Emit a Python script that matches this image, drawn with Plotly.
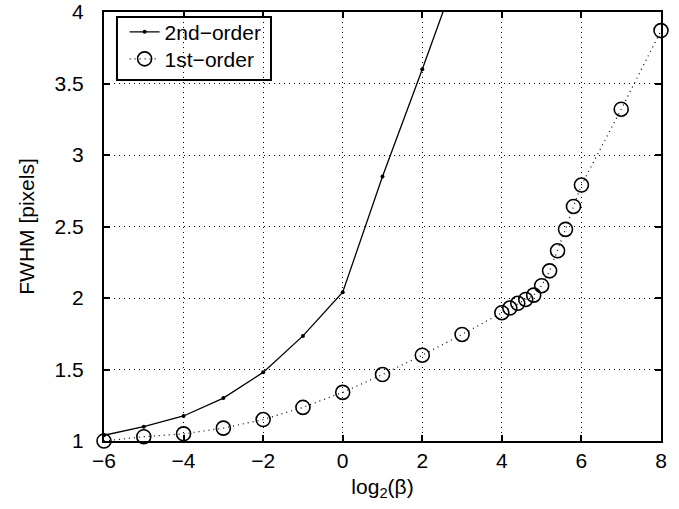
import plotly.graph_objects as go

x2 = [-6, -5, -4, -3, -2, -1, 0, 1, 2, 3]
y2 = [1.04, 1.10, 1.175, 1.30, 1.48, 1.735, 2.04, 2.85, 3.60, 4.37]

x1 = [-6, -5, -4, -3, -2, -1, 0, 1, 2, 3, 4, 4.2, 4.4, 4.6, 4.8, 5.0, 5.2, 5.4, 5.6, 5.8, 6.0, 7, 8]
y1 = [1.0, 1.03, 1.05, 1.09, 1.15, 1.235, 1.34, 1.465, 1.60, 1.745, 1.897, 1.93, 1.963, 1.99, 2.02,
      2.086, 2.19, 2.33, 2.48, 2.64, 2.79, 3.32, 3.87]

xticks = [-6, -4, -2, 0, 2, 4, 6, 8]
yticks = [1, 1.5, 2, 2.5, 3, 3.5, 4]

FONT = "Liberation Sans, Arial, sans-serif"

fig = go.Figure()
fig.add_trace(go.Scatter(
    x=x2, y=y2, name="2nd\u2212order", mode="lines+markers",
    line=dict(color="black", width=1.3),
    marker=dict(symbol="circle", size=4, color="black"),
    cliponaxis=True, legend="legend",
))
fig.add_trace(go.Scatter(
    x=x1, y=y1, name="1st\u2212order", mode="lines+markers",
    line=dict(color="black", width=1.2, dash="1px,4px"),
    marker=dict(symbol="circle-open", size=14, color="black", line=dict(width=1.6)),
    cliponaxis=False, legend="legend2",
))

axis_common = dict(
    showline=True, linecolor="black", linewidth=2, mirror="ticks",
    ticks="inside", ticklen=6, tickwidth=2, tickcolor="black",
    showgrid=True, gridcolor="black", gridwidth=1, griddash="1px,4px",
    zeroline=False, automargin=False, ticklabeloverflow="allow",
    tickfont=dict(family=FONT, size=21, color="black"),
)

fig.update_xaxes(range=[-6, 8], tickvals=xticks, ticktext=[str(v).replace("-", "\u2212") for v in xticks],
                 ticklabelstandoff=0,
                 title=dict(text="log<sub>2</sub>(\u03b2)", font=dict(family=FONT, size=21, color="black"), standoff=8),
                 **axis_common)
fig.update_yaxes(range=[1, 4], tickvals=yticks, ticktext=[("%g" % v) for v in yticks],
                 ticklabelstandoff=14,
                 title=dict(text="FWHM [pixels]", font=dict(family=FONT, size=21, color="black"), standoff=14),
                 **axis_common)

# legend frame (style only)
fig.add_shape(type="rect", xref="paper", yref="paper",
              x0=0.0233, x1=0.2998, y0=0.8415, y1=0.9883,
              line=dict(color="black", width=2), fillcolor="white", layer="between")

leg = dict(xanchor="left", yanchor="middle", borderwidth=0, bgcolor="rgba(0,0,0,0)",
           font=dict(family=FONT, size=21, color="black"))

fig.update_layout(
    width=679, height=509,
    margin=dict(l=104, r=18, t=12, b=68),
    paper_bgcolor="white", plot_bgcolor="white",
    font=dict(family=FONT, size=21, color="black"),
    legend=dict(x=0.037, y=0.953, **leg),
    legend2=dict(x=0.037, y=0.890, **leg),
    showlegend=True,
)

fig.write_html("out.html", config={"displayModeBar": False},
               post_script="document.body.style.margin='0';")
